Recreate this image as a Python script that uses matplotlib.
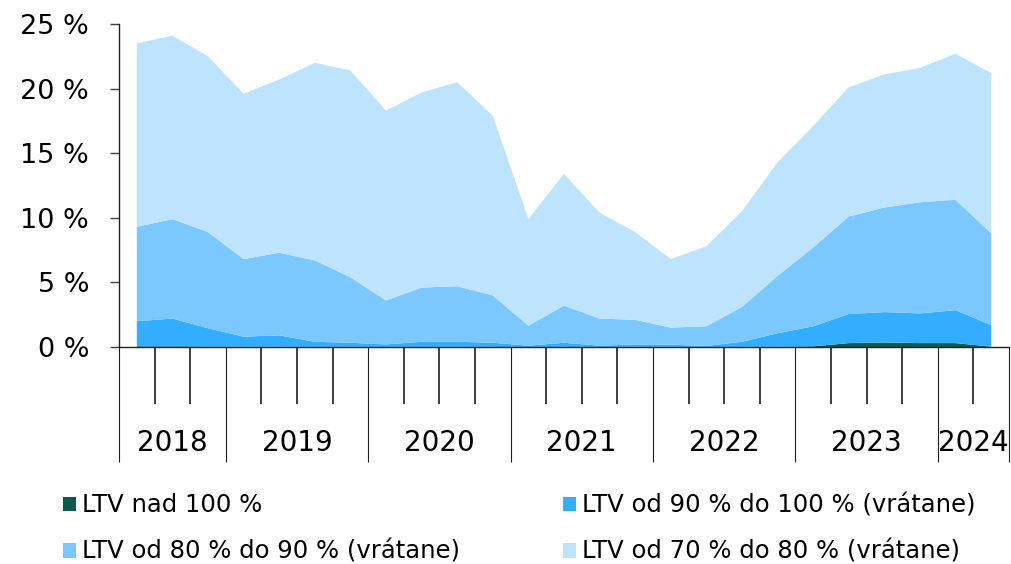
"""Stacked area chart: share of new loans by LTV band, quarterly 2018-2024."""

import matplotlib.pyplot as plt
import matplotlib.transforms as mtransforms
import numpy as np

plt.rcParams["font.family"] = ["DejaVu Sans"]

# quarterly data, 2018 Q2 .. 2024 Q2 (percent)
years = ["2018", "2019", "2020", "2021", "2022", "2023", "2024"]
quarters_per_year = [3, 4, 4, 4, 4, 4, 2]

ltv_over_100 = [0.05, 0.05, 0.03, 0.02, 0.02, 0.01, 0.01, 0.01, 0.01, 0.01, 0.01, 0.00, 0.01,
                0.00, 0.01, 0.01, 0.00, 0.01, 0.02, 0.05, 0.30, 0.35, 0.30, 0.30, 0.02]
ltv_90_100 = [1.95, 2.15, 1.42, 0.78, 0.88, 0.39, 0.32, 0.19, 0.39, 0.39, 0.32, 0.10, 0.32,
              0.10, 0.19, 0.17, 0.08, 0.39, 1.04, 1.55, 2.25, 2.35, 2.30, 2.55, 1.68]
ltv_80_90 = [7.30, 7.70, 7.45, 6.00, 6.40, 6.30, 5.07, 3.40, 4.20, 4.30, 3.67, 1.55, 2.87,
             2.10, 1.90, 1.32, 1.52, 2.70, 4.44, 6.10, 7.55, 8.10, 8.60, 8.55, 7.10]
ltv_70_80 = [14.2, 14.2, 13.6, 12.8, 13.4, 15.3, 16.0, 14.7, 15.1, 15.8, 13.9, 8.25, 10.2,
             8.2, 6.8, 5.3, 6.2, 7.4, 8.8, 9.4, 10.0, 10.3, 10.4, 11.3, 12.4]

labels = [
    "LTV nad 100 %",
    "LTV od 90 % do 100 % (vrátane)",
    "LTV od 80 % do 90 % (vrátane)",
    "LTV od 70 % do 80 % (vrátane)",
]
colors = ["#0b5a4c", "#33adff", "#7ac8ff", "#bde4fc"]

fig = plt.figure(figsize=(10.12, 5.64), dpi=100)
ax = fig.add_axes([0.1176, 0.3848, 0.8794, 0.5726])

x = np.arange(len(ltv_over_100))
polys = ax.stackplot(x, ltv_over_100, ltv_90_100, ltv_80_90, ltv_70_80,
                     colors=colors, labels=labels, linewidth=0)

ax.set_xlim(-0.5, len(x) - 0.5)
ax.set_ylim(0, 25)
ax.set_yticks(range(0, 26, 5))
ax.set_yticklabels([f"{v} %" for v in range(0, 26, 5)], fontsize=19.5)
ax.tick_params(axis="y", length=6.5, width=1, color="#404040", pad=15)

for side in ("top", "right"):
    ax.spines[side].set_visible(False)
for side in ("left", "bottom"):
    ax.spines[side].set_linewidth(1)
    ax.spines[side].set_color("#202020")

# category boundaries: short ticks between quarters, long ticks between years
edges = np.cumsum([0] + quarters_per_year) - 0.5
all_bounds = np.arange(len(x) + 1) - 0.5
ax.set_xticks(edges)
ax.set_xticks([b for b in all_bounds if b not in edges], minor=True)
ax.tick_params(axis="x", which="major", length=83, width=0.8, color="#202020", labelbottom=False)
ax.tick_params(axis="x", which="minor", length=41, width=1.2, color="#202020", labelbottom=False)

trans = mtransforms.blended_transform_factory(ax.transData, ax.transAxes)
for year, lo, hi in zip(years, edges[:-1], edges[1:]):
    ax.text((lo + hi) / 2, -0.297, year, transform=trans, ha="center", va="center", fontsize=20)

# legend in two columns, filled row by row
leg_kw = dict(loc="upper left", frameon=False, fontsize=17.5, handlelength=0.55,
              handleheight=0.55, handletextpad=0.25, labelspacing=0.92,
              borderpad=0, borderaxespad=0)
fig.legend([polys[0], polys[2]], [labels[0], labels[2]],
           bbox_to_anchor=(0.062, 0.125), **leg_kw)
fig.legend([polys[1], polys[3]], [labels[1], labels[3]],
           bbox_to_anchor=(0.556, 0.125), **leg_kw)

fig.savefig("out.png", dpi=100)
